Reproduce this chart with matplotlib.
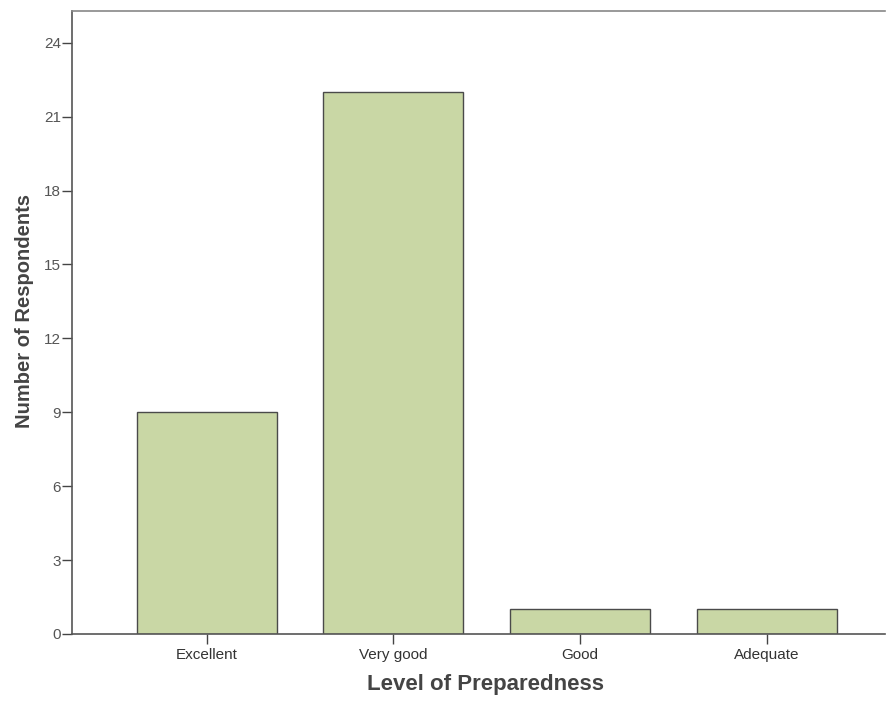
import matplotlib
matplotlib.use("Agg")
import matplotlib.pyplot as plt

# valores del grafico
categorias = ["Excellent", "Very good", "Good", "Adequate"]
respondentes = [9, 22, 1, 1]
ticks_y = [0, 3, 6, 9, 12, 15, 18, 21, 24]

plt.rcParams['font.family'] = ['Liberation Sans', 'DejaVu Sans']

fig = plt.figure(figsize=(8.9, 7.02), dpi=100)
ax = fig.add_axes([0.081, 0.097, 0.913, 0.887])

x = range(len(categorias))
ax.bar(x, respondentes, width=0.75, color="#c9d7a5", edgecolor="#4a4a4a", linewidth=1.0)

ax.set_xlim(-0.72, 3.63)
ax.set_ylim(0, 25.28)
ax.set_xticks(list(x))
ax.set_xticklabels(categorias, fontsize=11, color="#333333")
ax.set_yticks(ticks_y)
ax.set_yticklabels([str(t) for t in ticks_y], fontsize=11, color="#555555")
ax.tick_params(axis="x", direction="out", length=7, width=1, color="#444444", pad=3)
ax.tick_params(axis="y", direction="out", length=7, width=1, color="#444444", pad=1)

for lado in ["left", "bottom", "top"]:
    ax.spines[lado].set_color("#555555")
    ax.spines[lado].set_linewidth(1.2)
ax.spines["top"].set_color("#888888")
ax.spines["right"].set_visible(False)

ax.set_ylabel("Number of Respondents", fontsize=14.5, fontweight="bold", color="#444444")
ax.set_xlabel("Level of Preparedness", fontsize=16, fontweight="bold", color="#444444")
ax.yaxis.set_label_coords(-0.047, 0.518)
ax.xaxis.set_label_coords(0.509, -0.064)

fig.savefig("out.png", dpi=100)
